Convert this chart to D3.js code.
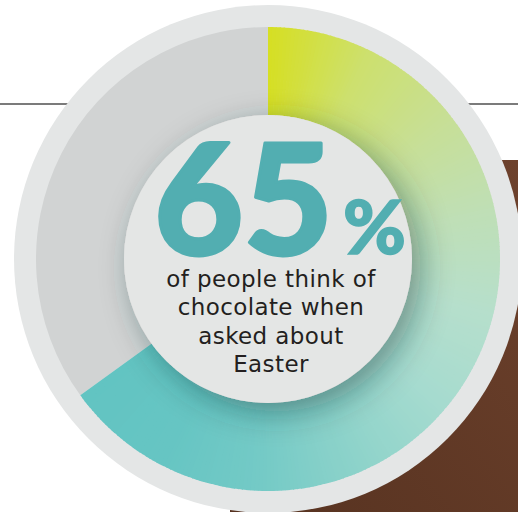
<!DOCTYPE html>
<html>
<head>
<meta charset="utf-8">
<script src="https://cdn.jsdelivr.net/npm/d3@7"></script>
<style>
  html, body { margin: 0; padding: 0; background: #fff; }
  svg { display: block; }
</style>
</head>
<body>
<div id="chart"></div>
<script>
// Data
var shares = [65, 35];
var shareNames = ["chocolate", "other"];
var bigNumber = "65";
var bigUnit = "%";
var captionLines = ["of people think of", "chocolate when", "asked about", "Easter"];

// Canvas
var width = 518;
var height = 512;
var cx = 268;
var cy = 259;

// Ring sizes
var outerR = 254;
var ringOuter = 232;
var ringInner = 144;

var svg = d3.select("#chart")
  .append("svg")
  .attr("width", width)
  .attr("height", height);

var defs = svg.append("defs");

// brown backdrop gradient
var brown = defs.append("linearGradient")
  .attr("id", "brown")
  .attr("x1", "100%").attr("y1", "0%")
  .attr("x2", "0%").attr("y2", "100%");
brown.append("stop").attr("offset", "0%").attr("stop-color", "#6d412c");
brown.append("stop").attr("offset", "100%").attr("stop-color", "#563220");

// soft shadow under the centre disc
var shadow = defs.append("filter")
  .attr("id", "shadow")
  .attr("x", "-40%").attr("y", "-40%")
  .attr("width", "180%").attr("height", "180%");
shadow.append("feDropShadow")
  .attr("dx", 9).attr("dy", 9)
  .attr("stdDeviation", 16)
  .attr("flood-color", "#1d3b37")
  .attr("flood-opacity", 0.45);

// Background pieces: brown block and horizontal rule
svg.append("rect")
  .attr("x", 230).attr("y", 160)
  .attr("width", width - 230).attr("height", height - 160)
  .attr("fill", "url(#brown)");

svg.append("line")
  .attr("x1", 0).attr("x2", width)
  .attr("y1", 104).attr("y2", 104)
  .attr("stroke", "#7b7b7b")
  .attr("stroke-width", 2);

var g = svg.append("g")
  .attr("transform", "translate(" + cx + "," + cy + ")");

// outer pale disc
g.append("circle")
  .attr("r", outerR)
  .attr("fill", "#e4e6e6");

// pie layout, start at 12 o'clock going clockwise
var pie = d3.pie().sort(null).value(function(d) { return d; });
var slices = pie(shares);

var arc = d3.arc().innerRadius(ringInner).outerRadius(ringOuter);

// grey remainder slice
g.append("path")
  .datum(slices[1])
  .attr("class", "slice " + shareNames[1])
  .attr("d", arc)
  .attr("fill", "#d1d3d3");

// main slice: split into thin wedges to fake a conic gradient
var colorStops = ["#d6df22", "#cde06e", "#c7df96", "#bfdfb6", "#b6dfcc", "#a6dbcf", "#8ed3ca", "#74cac6", "#66c5c3", "#62c4c2"];
var main = slices[0];
var colorScale = d3.scaleLinear()
  .domain(d3.range(colorStops.length).map(function(i) {
    return main.startAngle + (main.endAngle - main.startAngle) * i / (colorStops.length - 1);
  }))
  .range(colorStops)
  .interpolate(d3.interpolateRgb);

var steps = 240;
var stepAngle = (main.endAngle - main.startAngle) / steps;
var wedges = d3.range(steps).map(function(i) {
  return {
    startAngle: main.startAngle + i * stepAngle,
    endAngle: Math.min(main.endAngle, main.startAngle + (i + 1) * stepAngle + 0.004)
  };
});

g.append("g")
  .attr("class", "slice " + shareNames[0])
  .selectAll("path")
  .data(wedges)
  .enter()
  .append("path")
  .attr("d", arc)
  .attr("fill", function(d) { return colorScale((d.startAngle + d.endAngle) / 2); });

// centre disc with shadow
g.append("circle")
  .attr("r", ringInner)
  .attr("fill", "#e4e6e5")
  .attr("filter", "url(#shadow)");

// Big number, stretched and thickened toward the heavy geometric look
g.append("text")
  .attr("x", -114)
  .attr("y", -4)
  .attr("textLength", 179)
  .attr("lengthAdjust", "spacingAndGlyphs")
  .style("font-family", "Lato, Roboto, 'DejaVu Sans', sans-serif")
  .style("font-weight", 900)
  .style("font-size", "154px")
  .attr("fill", "#52aeb1")
  .attr("stroke", "#52aeb1")
  .attr("stroke-width", 3)
  .attr("stroke-linejoin", "round")
  .text(bigNumber);

g.append("text")
  .attr("x", 75)
  .attr("y", -5)
  .attr("textLength", 63)
  .attr("lengthAdjust", "spacingAndGlyphs")
  .style("font-family", "Lato, Roboto, 'DejaVu Sans', sans-serif")
  .style("font-weight", 900)
  .style("font-size", "75px")
  .attr("fill", "#52aeb1")
  .attr("stroke", "#52aeb1")
  .attr("stroke-width", 1.5)
  .text(bigUnit);

// Caption
g.append("g")
  .selectAll("text")
  .data(captionLines)
  .enter()
  .append("text")
  .attr("x", 3)
  .attr("y", function(d, i) { return 28 + i * 28.4; })
  .attr("text-anchor", "middle")
  .style("font-family", "'DejaVu Sans', sans-serif")
  .style("font-size", "23px")
  .attr("letter-spacing", "0.4")
  .attr("fill", "#231f20")
  .text(function(d) { return d; });
</script>
</body>
</html>
